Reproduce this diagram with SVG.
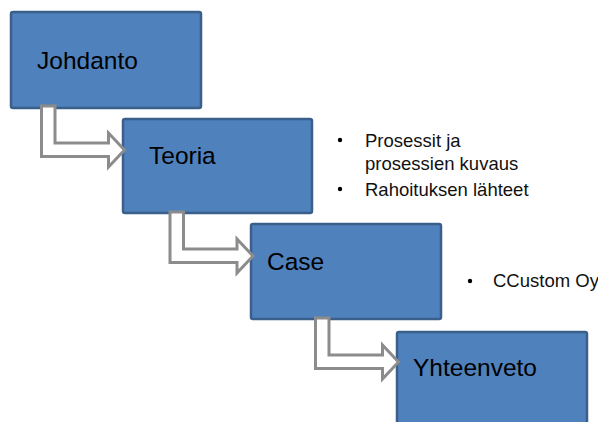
<svg xmlns="http://www.w3.org/2000/svg" xmlns:xlink="http://www.w3.org/1999/xlink" width="598" height="422" viewBox="0 0 598 422">
<style>
.box{fill:#4F81BD;stroke:#3A5F8B;stroke-width:2.5}
.title{font-family:"Liberation Sans",Arial,sans-serif;font-size:24.5px;fill:#000}
.bul{font-family:"Liberation Sans",Arial,sans-serif;font-size:18.5px;fill:#111}
.arrow{fill:#fff;stroke:#8C8C8C;stroke-width:3;stroke-linejoin:miter}
</style>
<defs>
<path id="bent" d="M0,0 H13.5 V37 H67 V27 L83,44 L67,61 V50.5 H0 Z"/>
</defs>
<rect width="598" height="422" fill="#fff"/>
<g id="johdanto">
<rect class="box" x="11" y="12" width="190" height="96" rx="2"/>
<text class="title" x="37" y="69">Johdanto</text>
</g>
<g id="teoria">
<rect class="box" x="123" y="119" width="189" height="94" rx="2"/>
<text class="title" x="149" y="164">Teoria</text>
</g>
<g id="case">
<rect class="box" x="251" y="224" width="190" height="95" rx="2"/>
<text class="title" x="267" y="270">Case</text>
</g>
<g id="yhteenveto">
<rect class="box" x="397" y="332" width="190" height="100" rx="2"/>
<text class="title" x="413" y="376">Yhteenveto</text>
</g>
<g id="connectors">
<use xlink:href="#bent" class="arrow" transform="translate(41.5,106)"/>
<use xlink:href="#bent" class="arrow" transform="translate(170,212)"/>
<use xlink:href="#bent" class="arrow" transform="translate(315.5,318)"/>
</g>
<g id="teoria-notes">
<circle cx="340" cy="140" r="2.2" fill="#000"/>
<text class="bul" x="365" y="147">Prosessit ja</text>
<text class="bul" x="365" y="170">prosessien kuvaus</text>
<circle cx="340" cy="189" r="2.2" fill="#000"/>
<text class="bul" x="365" y="196">Rahoituksen lähteet</text>
</g>
<g id="case-notes">
<circle cx="470" cy="281" r="2.2" fill="#000"/>
<text class="bul" x="493" y="287">CCustom Oy</text>
</g>
</svg>
